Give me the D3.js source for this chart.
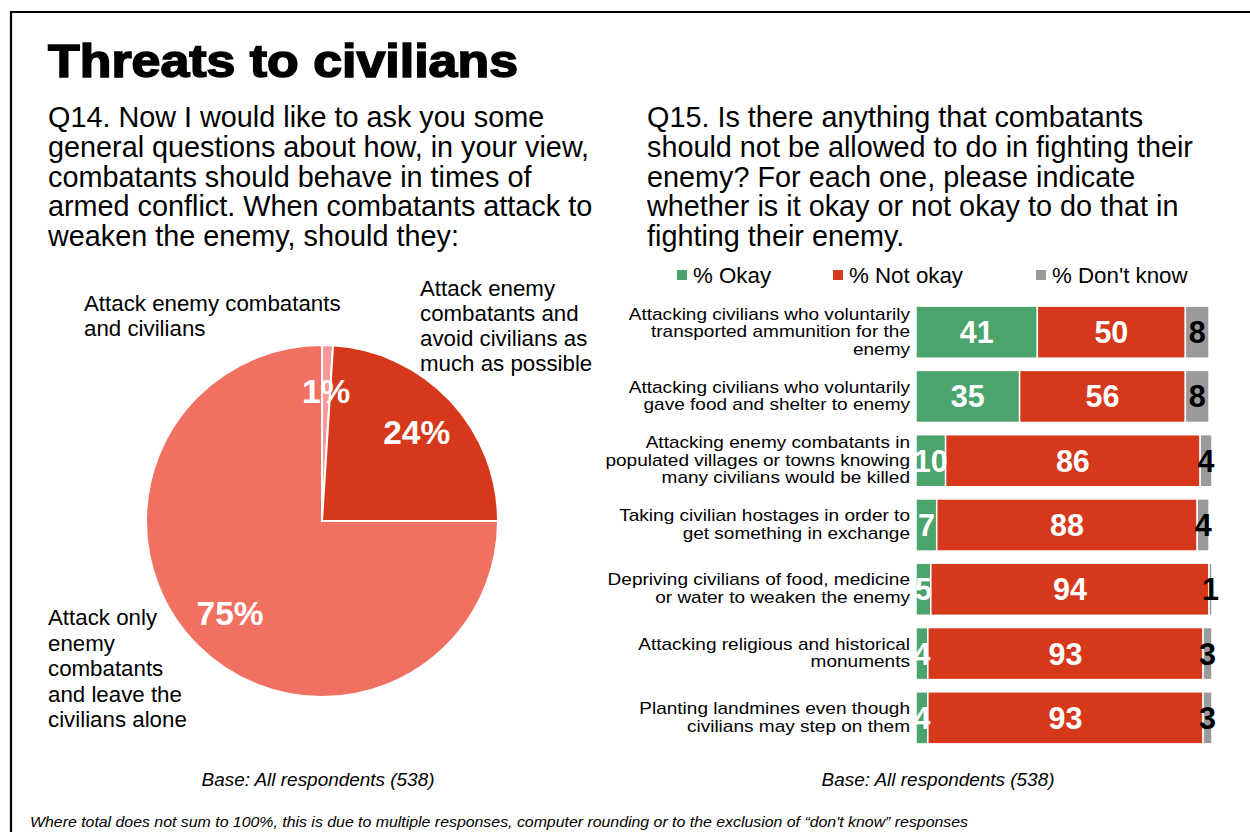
<!DOCTYPE html>
<html>
<head>
<meta charset="utf-8">
<script src="https://cdn.jsdelivr.net/npm/d3@7"></script>
<style>
  html, body { margin: 0; padding: 0; background: #fff; }
  svg { display: block; font-family: "Liberation Sans", Arial, sans-serif; }
</style>
</head>
<body>
<svg id="chart" width="1250" height="832"></svg>
<script>
// ---- Q14 pie data (clockwise from 12 o'clock) ----
const pieCategories = ["Attack enemy combatants and civilians",
                       "Attack enemy combatants and avoid civilians as much as possible",
                       "Attack only enemy combatants and leave the civilians alone"];
const pieValues = [1, 24, 75];
const pieColors = ["#f8989a", "#d5381b", "#f07062"];

// ---- Q15 stacked bar data ----
const barCategories = [
  ["Attacking civilians who voluntarily", "transported ammunition for the", "enemy"],
  ["Attacking civilians who voluntarily", "gave food and shelter to enemy"],
  ["Attacking enemy combatants in", "populated villages or towns knowing", "many civilians would be killed"],
  ["Taking civilian hostages in order to", "get something in exchange"],
  ["Depriving civilians of food, medicine", "or water to weaken the enemy"],
  ["Attacking religious and historical", "monuments"],
  ["Planting landmines even though", "civilians may step on them"]
];
const okay    = [41, 35, 10, 7, 5, 4, 4];
const notOkay = [50, 56, 86, 88, 94, 93, 93];
const dontKnow = [8, 8, 4, 4, 1, 3, 3];
const seriesNames = ["% Okay", "% Not okay", "% Don't know"];
const seriesColors = ["#4ba46c", "#d5381b", "#9a9a9a"];
const seriesLabelColors = ["#fff", "#fff", "#000"];

const svg = d3.select("#chart");

// frame
svg.append("path")
  .attr("d", "M11,833 L11,12 L1251,12")
  .attr("fill", "none").attr("stroke", "#000").attr("stroke-width", 2.2);

// title
svg.append("text")
  .attr("x", 48).attr("y", 77)
  .attr("font-size", 46).attr("font-weight", 900)
  .attr("stroke", "#000").attr("stroke-width", 1.6)
  .attr("textLength", 470).attr("lengthAdjust", "spacingAndGlyphs")
  .text("Threats to civilians");

// multi-line text helper
function multiline(lines, x, y0, dy, size, anchor, opts = {}) {
  const t = svg.append("text")
    .attr("font-size", size)
    .attr("text-anchor", anchor || "start")
    .attr("fill", opts.fill || "#000");
  if (opts.weight) t.attr("font-weight", opts.weight);
  lines.forEach((l, i) => {
    t.append("tspan").attr("x", x).attr("y", y0 + i * dy).text(l);
  });
  return t;
}

multiline(["Q14. Now I would like to ask you some",
           "general questions about how, in your view,",
           "combatants should behave in times of",
           "armed conflict. When combatants attack to",
           "weaken the enemy, should they:"], 48, 127, 29.8, 28.8);

multiline(["Q15. Is there anything that combatants",
           "should not be allowed to do in fighting their",
           "enemy? For each one, please indicate",
           "whether is it okay or not okay to do that in",
           "fighting their enemy."], 647, 127, 29.8, 28.8);

// ---- pie ----
const cx = 322, cy = 521, R = 176;
const pie = d3.pie().sort(null).value(d => d);
const arcs = pie(pieValues);
const arc = d3.arc().innerRadius(0).outerRadius(R);
const labelArc = d3.arc().innerRadius(130).outerRadius(130);
const pg = svg.append("g").attr("transform", `translate(${cx},${cy})`);
pg.selectAll("path.slice").data(arcs).join("path")
  .attr("class", "slice")
  .attr("d", arc)
  .attr("fill", (d, i) => pieColors[i])
  .attr("stroke", "#fff").attr("stroke-width", 2);
pg.selectAll("text.pl").data(arcs).join("text")
  .attr("class", "pl")
  .attr("transform", d => `translate(${labelArc.centroid(d)})`)
  .attr("text-anchor", "middle").attr("dy", "0.36em")
  .attr("font-size", 33.5).attr("font-weight", "bold").attr("fill", "#fff")
  .text(d => d.data + "%");

// pie category labels
multiline(["Attack enemy combatants", "and civilians"], 84, 311, 25, 22.3);
multiline(["Attack enemy", "combatants and", "avoid civilians as", "much as possible"], 420, 296, 25, 22.3);
multiline(["Attack only", "enemy", "combatants", "and leave the", "civilians alone"], 48, 625, 25.5, 22.3);

// ---- stacked bars ----
const x = d3.scaleLinear().domain([0, 100]).range([916, 1212]);
const y = d3.scaleBand().domain(d3.range(barCategories.length)).range([300, 750]).paddingInner(0.19).paddingOuter(0.095);
const rows = barCategories.map((c, i) => ({ i, vals: [okay[i], notOkay[i], dontKnow[i]] }));
const stackData = rows.map(r => {
  let acc = 0;
  return r.vals.map((v, k) => { const s = { row: r.i, k, v, x0: acc, x1: acc + v }; acc += v; return s; });
}).flat();

const bg = svg.append("g");
bg.selectAll("rect").data(stackData).join("rect")
  .attr("x", d => x(d.x0))
  .attr("y", d => y(d.row))
  .attr("width", d => x(d.x1) - x(d.x0))
  .attr("height", y.bandwidth())
  .attr("fill", d => seriesColors[d.k])
  .attr("stroke", "#fff").attr("stroke-width", 1.5);

bg.selectAll("text.val").data(stackData).join("text")
  .attr("class", "val")
  .attr("x", d => (x(d.x0) + x(d.x1)) / 2)
  .attr("y", d => y(d.row) + y.bandwidth() / 2)
  .attr("dy", "0.36em")
  .attr("text-anchor", "middle")
  .attr("font-size", 30.5).attr("font-weight", "bold")
  .attr("fill", d => seriesLabelColors[d.k])
  .text(d => d.v);

// category labels (slightly widened type, right-aligned against the bars)
barCategories.forEach((lines, i) => {
  const lh = 17.6;
  const cyRow = y(i) + y.bandwidth() / 2;
  const y0 = cyRow - (lines.length - 1) * lh / 2 + 5;
  const t = svg.append("text")
    .attr("transform", `translate(910,0) scale(1.12,1)`)
    .attr("font-size", 17).attr("text-anchor", "end");
  lines.forEach((l, j) => t.append("tspan").attr("x", 0).attr("y", y0 + j * lh).text(l));
});

// legend
const legX = [677, 833, 1036];
const lg = svg.append("g");
seriesNames.forEach((n, k) => {
  lg.append("rect").attr("x", legX[k]).attr("y", 270).attr("width", 10).attr("height", 10).attr("fill", seriesColors[k]);
  lg.append("text").attr("x", legX[k] + 16).attr("y", 283).attr("font-size", 22.3).text(n);
});

// base notes and footnote
svg.append("text").attr("x", 318).attr("y", 786).attr("text-anchor", "middle")
  .attr("font-size", 18).attr("font-style", "italic")
  .attr("textLength", 233).attr("lengthAdjust", "spacingAndGlyphs")
  .text("Base: All respondents (538)");
svg.append("text").attr("x", 938).attr("y", 786).attr("text-anchor", "middle")
  .attr("font-size", 18).attr("font-style", "italic")
  .attr("textLength", 233).attr("lengthAdjust", "spacingAndGlyphs")
  .text("Base: All respondents (538)");
svg.append("text").attr("x", 30).attr("y", 827)
  .attr("font-size", 15.5).attr("font-style", "italic")
  .attr("textLength", 938).attr("lengthAdjust", "spacingAndGlyphs")
  .text("Where total does not sum to 100%, this is due to multiple responses, computer rounding or to the exclusion of \u201cdon't know\u201d responses");
</script>
</body>
</html>
